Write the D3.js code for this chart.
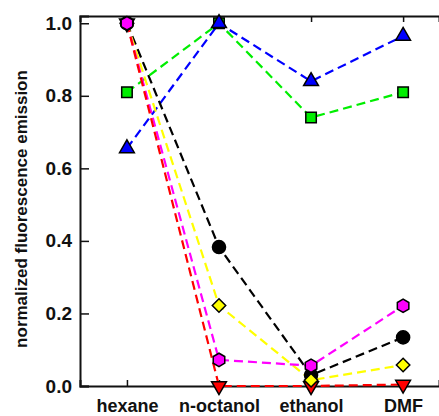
<!DOCTYPE html>
<html>
<head>
<meta charset="utf-8">
<script src="https://cdn.jsdelivr.net/npm/d3@7"></script>
<style>
  body { margin: 0; background: #fff; }
  svg text { font-family: "Liberation Sans", Arial, sans-serif; font-weight: bold; fill: #111; }
</style>
</head>
<body>
<div id="chart"></div>
<script>
// solvents on the x axis
const solvents = ['hexane', 'n-octanol', 'ethanol', 'DMF'];
const yTicks = [0.0, 0.2, 0.4, 0.6, 0.8, 1.0];

// normalized emission per series, one value per solvent
const blueTriangle = [0.655, 1.0, 0.84, 0.965];
const greenSquare = [0.81, 1.0, 0.74, 0.81];
const blackCircle = [1.0, 0.383, 0.03, 0.134];
const yellowDiamond = [1.0, 0.222, 0.016, 0.058];
const magentaHexagon = [1.0, 0.072, 0.056, 0.221];
const redDownTriangle = [1.0, 0.0, 0.0, 0.004];

const series = [
  {name: 'blue', values: blueTriangle, color: '#0000ff', shape: 'triangle'},
  {name: 'green', values: greenSquare, color: '#00ee00', shape: 'square'},
  {name: 'black', values: blackCircle, color: '#000000', shape: 'circle'},
  {name: 'yellow', values: yellowDiamond, color: '#ffff00', shape: 'diamond'},
  {name: 'magenta', values: magentaHexagon, color: '#ff00ff', shape: 'hexagon'},
  {name: 'red', values: redDownTriangle, color: '#ff0000', shape: 'down'}
];

const width = 439, height = 416;
const margin = {top: 16, right: 0, bottom: 30, left: 80};

const svg = d3.select('#chart').append('svg')
    .attr('width', width)
    .attr('height', height);

// index based x scale so the categories sit where they do in the figure
const xScale = d3.scaleLinear()
    .domain([-0.51, 3.39])
    .range([margin.left, width - margin.right]);

const yScale = d3.scaleLinear()
    .domain([0, 1.02])
    .range([height - margin.bottom, margin.top]);

// axes
const yAxis = d3.axisRight(yScale)
    .tickValues(yTicks)
    .tickSize(9)
    .tickFormat(d3.format('.1f'));

svg.append('g')
    .attr('transform', `translate(${margin.left},0)`)
    .call(yAxis)
    .call(g => g.select('.domain').attr('stroke-width', 2).attr('stroke', '#111'))
    .call(g => g.selectAll('.tick line').attr('stroke-width', 1.5).attr('stroke', '#111'))
    .call(g => g.selectAll('.tick text')
        .attr('x', -8)
        .attr('text-anchor', 'end')
        .style('font-size', '19px'));

const xAxis = d3.axisTop(xScale)
    .tickValues(d3.range(solvents.length))
    .tickSize(6)
    .tickFormat(i => solvents[i]);

svg.append('g')
    .attr('transform', `translate(0,${height - margin.bottom})`)
    .call(xAxis)
    .call(g => g.select('.domain').attr('stroke-width', 2).attr('stroke', '#111'))
    .call(g => g.selectAll('.tick line').attr('stroke-width', 1.5).attr('stroke', '#111'))
    .call(g => g.selectAll('.tick text')
        .attr('y', 20)
        .attr('dy', '0.35em')
        .style('font-size', '18px'));

// top frame line with small inward ticks
const topAxis = d3.axisBottom(xScale)
    .tickValues(d3.range(solvents.length))
    .tickSize(6)
    .tickFormat('');

svg.append('g')
    .attr('transform', `translate(0,${margin.top})`)
    .call(topAxis)
    .call(g => g.select('.domain').attr('stroke-width', 2).attr('stroke', '#111'))
    .call(g => g.selectAll('.tick line').attr('stroke-width', 1.5).attr('stroke', '#111'));

svg.append('text')
    .attr('transform', `translate(21,209) rotate(-90)`)
    .attr('text-anchor', 'middle')
    .attr('dy', '0.35em')
    .style('font-size', '17px')
    .text('normalized fluorescence emission');

// dashed lines
const line = d3.line()
    .x((d, i) => xScale(i))
    .y(d => yScale(d));

svg.append('g').selectAll('.series-line')
    .data(series)
  .join('path')
    .attr('class', 'series-line')
    .attr('d', d => line(d.values))
    .attr('fill', 'none')
    .attr('stroke', d => d.color)
    .attr('stroke-width', 2.2)
    .attr('stroke-dasharray', '9,5');

// markers
const hexagon = {
  draw(context, size) {
    const r = Math.sqrt(size / (1.5 * Math.sqrt(3)));
    for (let k = 0; k < 6; k++) {
      const a = Math.PI / 6 + k * Math.PI / 3;
      const px = r * Math.cos(a), py = r * Math.sin(a);
      if (k === 0) context.moveTo(px, py); else context.lineTo(px, py);
    }
    context.closePath();
  }
};

const shapes = {
  triangle: {type: d3.symbolTriangle, size: 95, rotate: 0},
  down: {type: d3.symbolTriangle, size: 95, rotate: 180},
  square: {type: d3.symbolSquare, size: 110, rotate: 0},
  circle: {type: d3.symbolCircle, size: 135, rotate: 0},
  diamond: {type: d3.symbolDiamond2, size: 115, rotate: 0},
  hexagon: {type: hexagon, size: 115, rotate: 0}
};

// draw order so that the top markers match the figure
const markerOrder = ['red', 'black', 'yellow', 'magenta', 'green', 'blue'];

markerOrder.forEach(name => {
  const s = series.find(d => d.name === name);
  const sh = shapes[s.shape];
  svg.append('g').selectAll('.point')
      .data(s.values)
    .join('path')
      .attr('class', 'point')
      .attr('d', d3.symbol().type(sh.type).size(sh.size))
      .attr('transform', (d, i) => `translate(${xScale(i)},${yScale(d)}) rotate(${sh.rotate})`)
      .attr('fill', s.color)
      .attr('stroke', '#000')
      .attr('stroke-width', 1.5);
});
</script>
</body>
</html>
